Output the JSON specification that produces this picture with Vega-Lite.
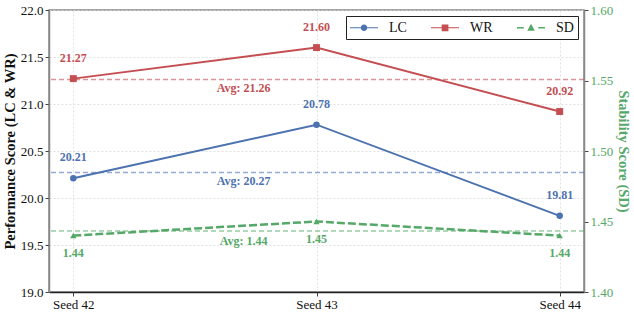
{
  "$schema": "https://vega.github.io/schema/vega-lite/v6.json",
  "width": 535,
  "height": 282,
  "autosize": {"type": "none"},
  "padding": {"left": 49, "top": 10, "right": 50, "bottom": 22},
  "config": {
    "font": "Liberation Serif",
    "view": {"stroke": "#888", "strokeWidth": 1.5},
    "axis": {
      "labelFont": "Liberation Serif",
      "titleFont": "Liberation Serif",
      "labelFontSize": 13,
      "titleFontSize": 14.5,
      "titleFontWeight": "bold",
      "labelColor": "#111",
      "titleColor": "#111",
      "tickSize": 4,
      "tickColor": "#444",
      "domainColor": "#888",
      "domainWidth": 1.5,
      "gridColor": "#d9d9d9",
      "gridDash": [2, 2],
      "gridWidth": 0.8,
      "labelPadding": 2
    },
    "legend": {
      "title": null,
      "orient": "top-right",
      "offset": 6,
      "direction": "horizontal",
      "symbolSize": 225,
      "symbolOpacity": 1,
      "symbolStrokeWidth": 0,
      "labelOffset": 24,
      "columnPadding": 24,
      "padding": 4,
      "labelFont": "Liberation Serif",
      "labelFontSize": 14,
      "labelColor": "#111",
      "strokeColor": "#222",
      "fillColor": "white"
    }
  },
  "datasets": {
    "scores": [
      {"idx": 0, "seed": "Seed 42", "series": "LC", "value": 20.21},
      {"idx": 1, "seed": "Seed 43", "series": "LC", "value": 20.78},
      {"idx": 2, "seed": "Seed 44", "series": "LC", "value": 19.81},
      {"idx": 0, "seed": "Seed 42", "series": "WR", "value": 21.27},
      {"idx": 1, "seed": "Seed 43", "series": "WR", "value": 21.60},
      {"idx": 2, "seed": "Seed 44", "series": "WR", "value": 20.92},
      {"idx": 0, "seed": "Seed 42", "series": "SD", "value": 1.44},
      {"idx": 1, "seed": "Seed 43", "series": "SD", "value": 1.45},
      {"idx": 2, "seed": "Seed 44", "series": "SD", "value": 1.44}
    ],
    "averages": [
      {"series": "LC", "avg": 20.27, "label": "Avg: 20.27"},
      {"series": "WR", "avg": 21.26, "label": "Avg: 21.26"},
      {"series": "SD", "avg": 1.4433, "label": "Avg: 1.44"}
    ]
  },
  "layer": [
    {
      "layer": [
        {
          "data": {"name": "averages"},
          "transform": [{"filter": {"field": "series", "oneOf": ["LC", "WR"]}}],
          "mark": {"type": "rule", "strokeDash": [5, 3], "strokeWidth": 1.5, "opacity": 0.6},
          "encoding": {
            "y": {
              "field": "avg", "type": "quantitative",
              "scale": {"domain": [19, 22], "nice": false, "zero": false},
              "axis": {
                "orient": "left",
                "values": [19, 19.5, 20, 20.5, 21, 21.5, 22],
                "format": ".1f",
                "title": "Performance Score (LC & WR)",
                "titlePadding": 3,
                "grid": true
              }
            },
            "color": {"field": "series", "type": "nominal", "scale": {"domain": ["LC", "WR", "SD"], "range": ["#4C72B0", "#C44E52", "#55A868"]}}
          }
        },
        {
          "data": {"name": "averages"},
          "transform": [{"filter": {"field": "series", "oneOf": ["LC", "WR"]}}],
          "mark": {"type": "text", "dy": 8, "fontWeight": "bold", "fontSize": 12, "baseline": "middle", "align": "center"},
          "encoding": {
            "x": {"datum": 0.7, "type": "quantitative"},
            "y": {"field": "avg", "type": "quantitative"},
            "text": {"field": "label"},
            "color": {"field": "series", "type": "nominal"}
          }
        },
        {
          "data": {"name": "scores"},
          "transform": [{"filter": {"field": "series", "oneOf": ["LC", "WR"]}}],
          "mark": {"type": "line", "strokeWidth": 2},
          "encoding": {
            "x": {
              "field": "idx", "type": "quantitative",
              "scale": {"domain": [-0.1, 2.1], "nice": false, "zero": false},
              "axis": {
                "values": [0, 1, 2],
                "labelExpr": "['Seed 42','Seed 43','Seed 44'][datum.value]",
                "title": null,
                "grid": true,
                "domainColor": "#222",
                "labelPadding": 2
              }
            },
            "y": {"field": "value", "type": "quantitative"},
            "color": {"field": "series", "type": "nominal"}
          }
        },
        {
          "data": {"name": "scores"},
          "transform": [{"filter": {"field": "series", "equal": "LC"}}],
          "mark": {"type": "point", "shape": "circle", "filled": true, "size": 42, "opacity": 1},
          "encoding": {
            "x": {"field": "idx", "type": "quantitative"},
            "y": {"field": "value", "type": "quantitative"},
            "color": {"field": "series", "type": "nominal"}
          }
        },
        {
          "data": {"name": "scores"},
          "transform": [{"filter": {"field": "series", "equal": "WR"}}],
          "mark": {"type": "point", "shape": "square", "filled": true, "size": 48, "opacity": 1},
          "encoding": {
            "x": {"field": "idx", "type": "quantitative"},
            "y": {"field": "value", "type": "quantitative"},
            "color": {"field": "series", "type": "nominal"}
          }
        },
        {
          "data": {"name": "scores"},
          "transform": [{"filter": {"field": "series", "oneOf": ["LC", "WR"]}}],
          "mark": {"type": "text", "dy": -21, "fontWeight": "bold", "fontSize": 12, "baseline": "middle", "align": "center"},
          "encoding": {
            "x": {"field": "idx", "type": "quantitative"},
            "y": {"field": "value", "type": "quantitative"},
            "text": {"field": "value", "type": "quantitative", "format": ".2f"},
            "color": {"field": "series", "type": "nominal"}
          }
        },
        {
          "data": {"name": "averages"},
          "mark": {"type": "point", "filled": true, "opacity": 0, "clip": true},
          "encoding": {
            "x": {"datum": 0.7, "type": "quantitative"},
            "y": {"field": "avg", "type": "quantitative"},
            "color": {"field": "series", "type": "nominal"},
            "shape": {
              "field": "series", "type": "nominal",
              "scale": {
                "domain": ["LC", "WR", "SD"],
                "range": [
                  "M-1,-0.07H0.43V0.07H-1ZM1.31,-0.07H2.73V0.07H1.31ZM0.43,0A0.44,0.44,0,1,0,1.31,0A0.44,0.44,0,1,0,0.43,0Z",
                  "M-1,-0.07H0.42V0.07H-1ZM1.32,-0.07H2.73V0.07H1.32ZM0.42,-0.45H1.32V0.45H0.42Z",
                  "M-1,-0.09H-0.1V0.09H-1ZM1.84,-0.09H2.73V0.09H1.84ZM0.87,-0.55L1.37,0.4L0.37,0.4Z"
                ]
              }
            }
          }
        }
      ]
    },
    {
      "layer": [
        {
          "data": {"name": "averages"},
          "transform": [{"filter": {"field": "series", "equal": "SD"}}],
          "mark": {"type": "rule", "strokeDash": [5, 3], "strokeWidth": 1.5, "opacity": 0.6},
          "encoding": {
            "y": {
              "field": "avg", "type": "quantitative",
              "scale": {"domain": [1.4, 1.6], "nice": false, "zero": false},
              "axis": {
                "orient": "right",
                "values": [1.4, 1.425, 1.45, 1.475, 1.5, 1.525, 1.55, 1.575, 1.6],
                "labelExpr": "['1.40','1.43','1.45','1.48','1.50','1.52','1.55','1.57','1.60'][round((datum.value - 1.4) / 0.025)]",
                "title": "Stability Score (SD)",
                "titlePadding": 3,
                "grid": false,
                "labelColor": "#55A868",
                "titleColor": "#55A868"
              }
            },
            "color": {"field": "series", "type": "nominal"}
          }
        },
        {
          "data": {"name": "averages"},
          "transform": [{"filter": {"field": "series", "equal": "SD"}}],
          "mark": {"type": "text", "dy": 10, "fontWeight": "bold", "fontSize": 12, "baseline": "middle", "align": "center"},
          "encoding": {
            "x": {"datum": 0.7, "type": "quantitative"},
            "y": {"field": "avg", "type": "quantitative"},
            "text": {"field": "label"},
            "color": {"field": "series", "type": "nominal"}
          }
        },
        {
          "data": {"name": "scores"},
          "transform": [{"filter": {"field": "series", "equal": "SD"}}],
          "mark": {"type": "line", "strokeWidth": 2.5, "strokeDash": [8, 3]},
          "encoding": {
            "x": {"field": "idx", "type": "quantitative"},
            "y": {"field": "value", "type": "quantitative"},
            "color": {"field": "series", "type": "nominal"}
          }
        },
        {
          "data": {"name": "scores"},
          "transform": [{"filter": {"field": "series", "equal": "SD"}}],
          "mark": {"type": "point", "shape": "triangle-up", "filled": true, "size": 40, "opacity": 1},
          "encoding": {
            "x": {"field": "idx", "type": "quantitative"},
            "y": {"field": "value", "type": "quantitative"},
            "color": {"field": "series", "type": "nominal"}
          }
        },
        {
          "data": {"name": "scores"},
          "transform": [{"filter": {"field": "series", "equal": "SD"}}],
          "mark": {"type": "text", "dy": 17.5, "fontWeight": "bold", "fontSize": 12, "baseline": "middle", "align": "center"},
          "encoding": {
            "x": {"field": "idx", "type": "quantitative"},
            "y": {"field": "value", "type": "quantitative"},
            "text": {"field": "value", "type": "quantitative", "format": ".2f"},
            "color": {"field": "series", "type": "nominal"}
          }
        }
      ]
    }
  ],
  "resolve": {"scale": {"y": "independent"}}
}
